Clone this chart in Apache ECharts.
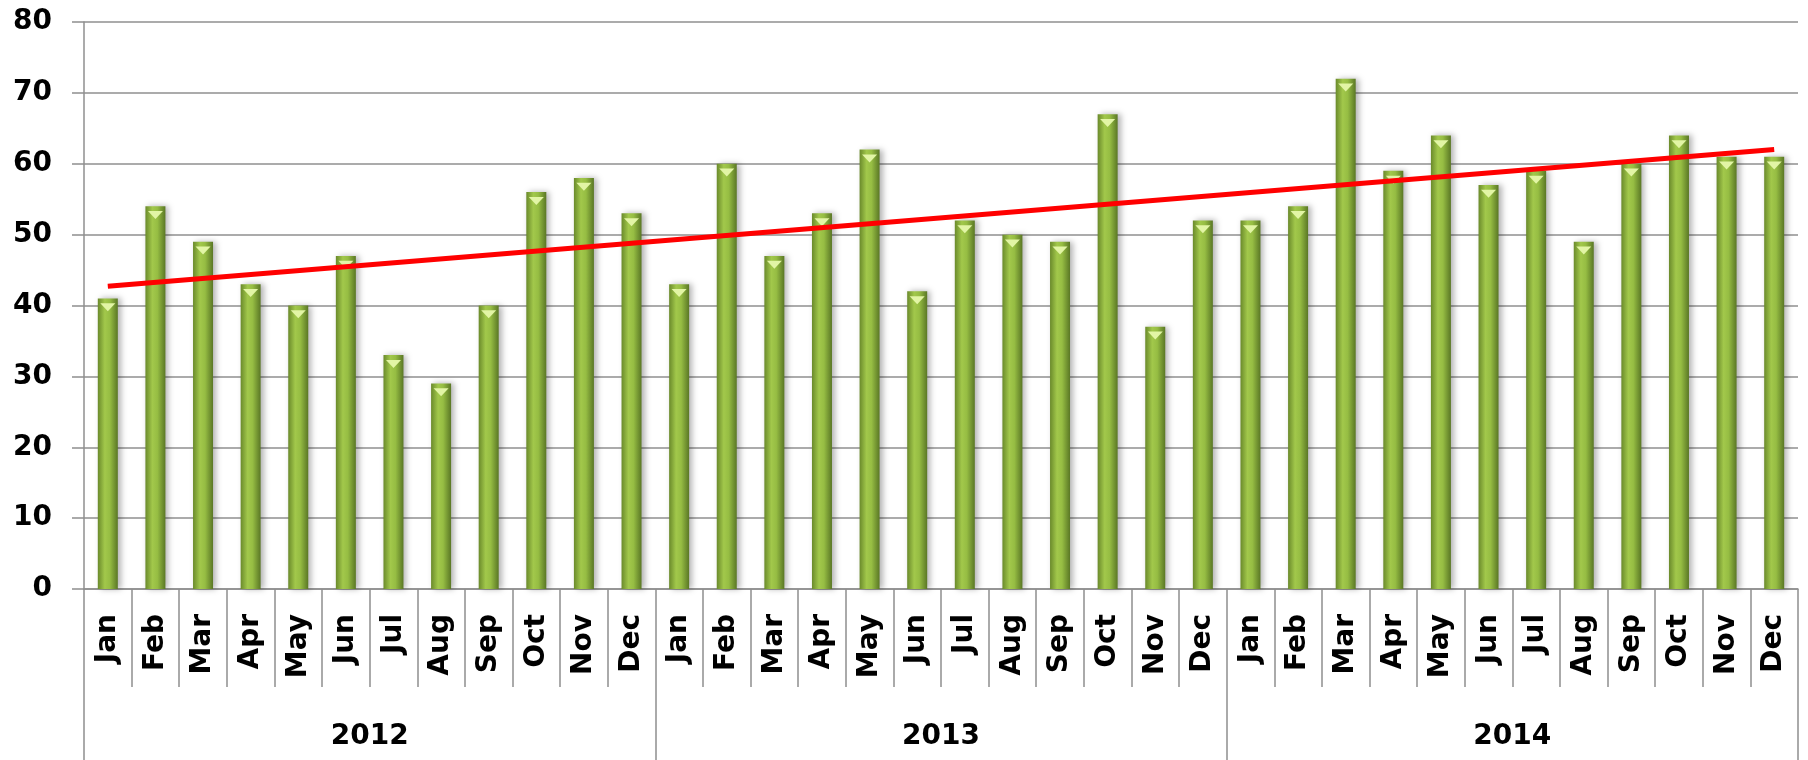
<!DOCTYPE html>
<html>
<head>
<meta charset="utf-8">
<style>
  html, body { margin: 0; padding: 0; background: #fff; }
  #chart { width: 1808px; height: 760px; }
</style>
<script src="https://cdn.jsdelivr.net/npm/echarts@6.0.0/dist/echarts.min.js"></script>
</head>
<body>
<div id="chart"></div>
<script>
var months = ['Jan', 'Feb', 'Mar', 'Apr', 'May', 'Jun', 'Jul', 'Aug', 'Sep', 'Oct', 'Nov', 'Dec']
var years = ['2012', '2013', '2014']
var values2012 = [41, 54, 49, 43, 40, 47, 33, 29, 40, 56, 58, 53]
var values2013 = [43, 60, 47, 53, 62, 42, 52, 50, 49, 67, 37, 52]
var values2014 = [52, 54, 72, 59, 64, 57, 59, 49, 60, 64, 61, 61]
// trend line: value at first and last month
var trendEnds = [42.7, 62.0]
var yTicks = { min: 0, max: 80, interval: 10 }

var categories = months.concat(months, months)
var values = values2012.concat(values2013, values2014)

var font = 'DejaVu Sans'
var gray = '#8f8f8f'

var chart = echarts.init(document.getElementById('chart'))
chart.setOption({
  animation: false,
  grid: { left: 84, right: 10, top: 22, bottom: 171 },
  xAxis: [{
    type: 'category',
    data: categories,
    position: 'bottom',
    axisLine: { lineStyle: { color: gray, width: 1.5 } },
    axisTick: { show: true, interval: 0, length: 98, lineStyle: { color: gray, width: 1.5 } },
    axisLabel: {
      interval: 0,
      rotate: 90,
      margin: 25,
      color: '#000',
      fontFamily: font,
      fontWeight: 'bold',
      fontSize: 28
    }
  }, {
    type: 'category',
    data: years,
    position: 'bottom',
    axisLine: { show: false },
    axisTick: { show: true, interval: 0, length: 175, lineStyle: { color: gray, width: 1.5 } },
    axisLabel: {
      interval: 0,
      margin: 134,
      color: '#000',
      fontFamily: font,
      fontWeight: 'bold',
      fontSize: 28
    }
  }],
  yAxis: {
    type: 'value',
    min: yTicks.min,
    max: yTicks.max,
    interval: yTicks.interval,
    axisLine: { show: true, lineStyle: { color: gray, width: 1.5 } },
    axisTick: { show: true, length: 12, lineStyle: { color: gray, width: 1.5 } },
    splitLine: { lineStyle: { color: gray, width: 1.5 } },
    axisLabel: {
      margin: 32,
      color: '#000',
      fontFamily: font,
      fontWeight: 'bold',
      fontSize: 28
    }
  },
  series: [{
    type: 'bar',
    data: values,
    barWidth: 20,
    itemStyle: {
      color: new echarts.graphic.LinearGradient(0, 0, 1, 0, [
        { offset: 0, color: '#6a8a2b' },
        { offset: 0.35, color: '#a2c84b' },
        { offset: 0.6, color: '#96bd43' },
        { offset: 1, color: '#5a7725' }
      ]),
      shadowColor: 'rgba(0,0,0,0.3)',
      shadowBlur: 6,
      shadowOffsetX: 3
    },
    z: 2
  }, {
    type: 'pictorialBar',
    data: values,
    barWidth: 20,
    symbol: 'triangle',
    symbolRotate: 180,
    symbolSize: [15, 8],
    symbolPosition: 'end',
    symbolOffset: [0, '60%'],
    itemStyle: { color: '#e2f5a5' },
    z: 3
  }, {
    type: 'line',
    data: [[0, trendEnds[0]], [categories.length - 1, trendEnds[1]]],
    symbol: 'none',
    lineStyle: { color: '#ff0000', width: 5 },
    z: 4
  }]
})
</script>
</body>
</html>
